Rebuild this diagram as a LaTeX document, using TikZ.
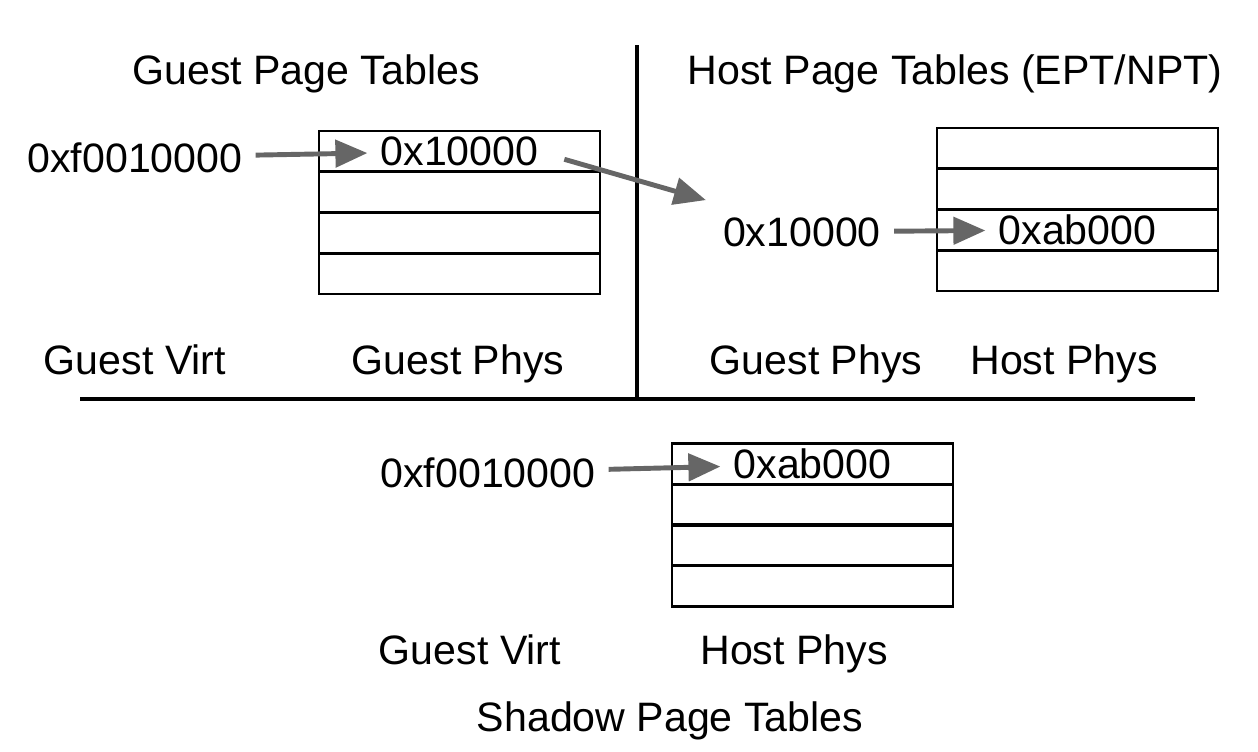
\documentclass[tikz,border=0pt]{standalone}
\usepackage{fontspec}
\setmainfont{Liberation Sans}
\usepackage{xcolor}
\usetikzlibrary{arrows.meta,positioning}
\definecolor{arrowgray}{RGB}{102,102,102}

\begin{document}
\begin{tikzpicture}[x=0.02cm,y=-0.02cm,>={Triangle[length=0.64cm,width=0.54cm]},
                    ptr/.style={->, draw=arrowgray, line width=2.8pt, shorten <=4pt, shorten >=4pt},
                    divider/.style={line width=2.4pt}]
    \tikzstyle{every node}=[font=\fontsize{23.4}{27}\selectfont]
    \tikzstyle{entry}=[draw, line width=1.6pt, minimum width=5.62cm, minimum height=0.815cm, inner sep=0pt]
    \useasboundingbox (0,0) rectangle (1258,751);

    % guest side
    \node[anchor=base] (gtitle) at (306,84) {Guest Page Tables};
    \foreach \i in {1,...,4}
      \node[entry] (g\i) at (459.5,110.6+40.75*\i) {};
    \node (gpa) at (g1) {0x10000};
    \node[anchor=base] (gva) at (135,172) {0xf0010000};
    \node[anchor=base] (gvirt) at (135,374) {Guest Virt};
    \node[anchor=base] (gphys) at (458,374) {Guest Phys};

    % host side
    \node[anchor=base] (htitle) at (955,84) {Host Page Tables (EPT/NPT)};
    \foreach \i in {1,...,4}
      \node[entry] (h\i) at (1077.5,107.6+40.75*\i) {};
    \node (hpa) at (h3) {0xab000};
    \node[anchor=base] (hva) at (802,246) {0x10000};
    \node[anchor=base] (hgphys) at (816,374) {Guest Phys};
    \node[anchor=base] (hphys) at (1064,374) {Host Phys};

    % shadow tables
    \foreach \i in {1,...,4}
      \node[entry] (s\i) at (812.5,423.75+40.5*\i) {};
    \node (spa) at (s1) {0xab000};
    \node[anchor=base] (sva) at (488,487) {0xf0010000};
    \node[anchor=base] (svirt) at (470,664) {Guest Virt};
    \node[anchor=base] (sphys) at (794,664) {Host Phys};
    \node[anchor=base] (stitle) at (670,731) {Shadow Page Tables};

    \draw[divider] (637,45) -- (637,398);
    \draw[divider] (80,399) -- (1195,399);

    \draw[ptr] (gva) -- (gpa);
    \draw[ptr, shorten >=0pt] ([shift={(13,6)}]gpa.east) -- ([shift={(-11,-11)}]hva.north west);
    \draw[ptr] (hva) -- (hpa);
    \draw[ptr] (sva) -- (spa);
\end{tikzpicture}
\end{document}
